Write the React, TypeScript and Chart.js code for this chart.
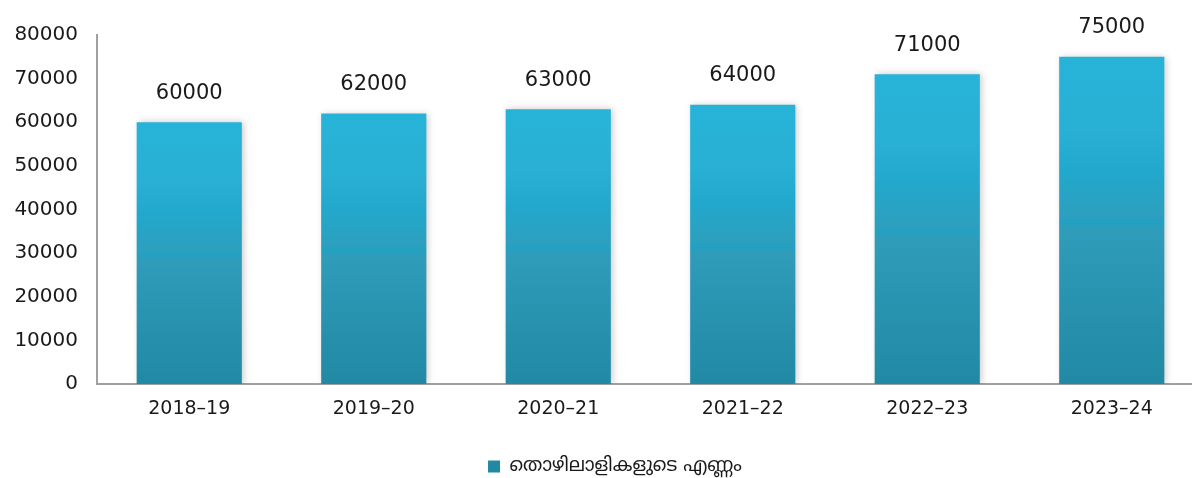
import React, { useEffect, useRef } from "react";
import { Chart, registerables } from "chart.js";

Chart.register(...registerables);

const categories = ["2018–19", "2019–20", "2020–21", "2021–22", "2022–23", "2023–24"];
const workers = [60000, 62000, 63000, 64000, 71000, 75000];
const seriesLabel = "തൊഴിലാളികളുടെ എണ്ണം";
const yTicks = [0, 10000, 20000, 30000, 40000, 50000, 60000, 70000, 80000];

const FONT = "'DejaVu Sans', 'Noto Sans Malayalam', 'Noto Sans', sans-serif";

export default function App() {
  const ref = useRef<HTMLCanvasElement | null>(null);

  useEffect(() => {
    document.body.style.margin = "0";
    const canvas = ref.current;
    if (!canvas) return;

    const barPlugin = {
      id: "barDecor",
      afterLayout(chart: any) {
        if (chart.legend) {
          chart.legend.left += 13;
          chart.legend.right += 13;
        }
      },
      beforeDatasetsDraw(chart: any) {
        const ctx = chart.ctx;
        ctx.save();
        ctx.shadowColor = "rgba(0,0,0,0.22)";
        ctx.shadowBlur = 7;
        ctx.shadowOffsetX = 2;
        ctx.shadowOffsetY = 0;
      },
      afterDatasetsDraw(chart: any) {
        const ctx = chart.ctx;
        ctx.restore();
        const meta = chart.getDatasetMeta(0);
        ctx.save();
        ctx.font = `21px ${FONT}`;
        ctx.fillStyle = "#1a1a1a";
        ctx.textAlign = "center";
        ctx.textBaseline = "middle";
        meta.data.forEach((el: any, i: number) => {
          ctx.fillText(String(workers[i]), el.x, el.y - 29);
        });
        ctx.restore();
      },
    };

    const chart = new Chart(canvas, {
      type: "bar",
      data: {
        labels: categories,
        datasets: [
          {
            label: seriesLabel,
            data: workers,
            barPercentage: 0.57,
            categoryPercentage: 1,
            borderWidth: 0,
            backgroundColor: (c: any) => {
              const ch = c.chart;
              if (c.type !== "data" || !ch.chartArea || !ch.scales.y) {
                return "#27a6c8";
              }
              const y = ch.scales.y;
              const top = y.getPixelForValue(c.raw);
              const base = y.getPixelForValue(0);
              const g = ch.ctx.createLinearGradient(0, top, 0, base);
              g.addColorStop(0, "#27b3d8");
              g.addColorStop(0.22, "#29b0d4");
              g.addColorStop(0.35, "#22a8cc");
              g.addColorStop(0.49, "#2d9fbe");
              g.addColorStop(0.5, "#22a1c3");
              g.addColorStop(0.53, "#2f9cba");
              g.addColorStop(1, "#2189a4");
              return g;
            },
          },
        ],
      },
      options: {
        animation: false,
        responsive: false,
        maintainAspectRatio: false,
        layout: { padding: { top: 35, left: 0, right: 0, bottom: -8 } },
        plugins: {
          legend: {
            position: "bottom",
            labels: {
              font: { family: FONT, size: 19 },
              color: "#1a1a1a",
              boxWidth: 12,
              boxHeight: 12,
              padding: 2,
            },
          },
          tooltip: { enabled: false },
        },
        scales: {
          x: {
            grid: { display: false, drawTicks: false },
            border: { display: true, color: "#a0a0a0", width: 2 },
            ticks: {
              font: { family: FONT, size: 19 },
              color: "#1a1a1a",
              padding: 14,
            },
            afterFit: (s: any) => {
              s.height = 71;
            },
          },
          y: {
            min: 0,
            max: 80000,
            grid: { display: false, drawTicks: false },
            border: { display: true, color: "#a0a0a0", width: 2 },
            afterBuildTicks: (s: any) => {
              s.ticks = yTicks.map((v) => ({ value: v }));
            },
            ticks: {
              font: { family: FONT, size: 20 },
              color: "#1a1a1a",
              padding: 19,
              callback: (v: any) => String(v),
            },
            afterFit: (s: any) => {
              s.width = 97;
            },
          },
        },
      },
      plugins: [barPlugin],
    });

    return () => chart.destroy();
  }, []);

  return (
    <div style={{ width: 1192, height: 478, overflow: "hidden", position: "relative" }}>
      <canvas ref={ref} width={1204} height={478} style={{ display: "block", width: 1204, height: 478 }} />
    </div>
  );
}
